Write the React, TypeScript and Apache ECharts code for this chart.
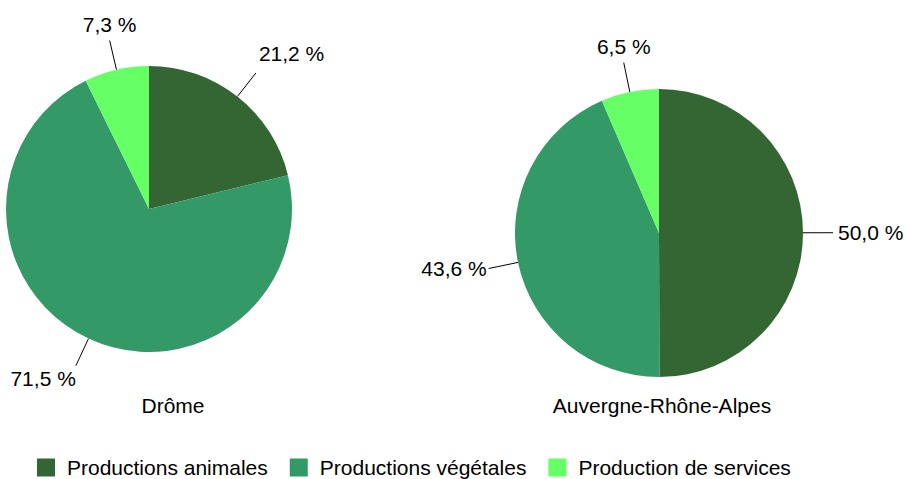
import React, { useEffect, useRef } from "react";
import * as echarts from "echarts";

const categories = ["Productions animales", "Productions végétales", "Production de services"];
const dromeValues = [21.2, 71.5, 7.3];
const auraValues = [50.0, 43.6, 6.5];
const regionNames = ["Drôme", "Auvergne-Rhône-Alpes"];
const colors = ["#336633", "#339966", "#66FF66"];

const FONT = "'Liberation Sans', Arial, sans-serif";

const fmt = (v: number) => v.toFixed(1).replace(".", ",") + " %";

const labelLayout = (p: any) => {
  const pts = p.labelLinePoints;
  if (!pts || pts.length < 2) return {};
  const s = pts[0];
  const m = pts[1];
  const e = pts[pts.length - 1];
  const dx = m[0] - s[0];
  const dy = m[1] - s[1];
  const len = Math.hypot(dx, dy) || 1;
  const ux = dx / len;
  const uy = dy / len;
  let x = e[0];
  let y = e[1];
  let align = "center";
  let verticalAlign = "middle";
  if (Math.abs(ux) < 0.35) {
    align = "center";
    verticalAlign = uy < 0 ? "bottom" : "top";
    y += uy < 0 ? -6 : 6;
  } else if (Math.abs(uy) < 0.35) {
    align = ux > 0 ? "left" : "right";
    x += ux > 0 ? 5 : -2;
  } else {
    align = ux > 0 ? "left" : "right";
    verticalAlign = uy < 0 ? "bottom" : "top";
    x += ux > 0 ? 3 : 0;
    y += uy < 0 ? -9 : 2;
  }
  return { x, y, align, verticalAlign, labelLinePoints: pts };
};

const makeSeries = (name: string, values: number[], center: number[], radius: number) => ({
  type: "pie",
  name,
  center,
  radius,
  startAngle: 90,
  clockwise: true,
  avoidLabelOverlap: false,
  silent: true,
  data: values.map((v, i) => ({ name: categories[i], value: v, itemStyle: { color: colors[i] } })),
  label: {
    show: true,
    position: "outside",
    formatter: (p: any) => fmt(p.value),
    fontSize: 21,
    fontFamily: FONT,
    color: "#000",
  },
  labelLine: {
    show: true,
    length: 30,
    length2: 0,
    smooth: false,
    lineStyle: { color: "#000", width: 1 },
  },
  labelLayout,
  itemStyle: { borderWidth: 0 },
  emphasis: { disabled: true },
});

export default function App() {
  const ref = useRef<HTMLDivElement>(null);
  useEffect(() => {
    if (!ref.current) return;
    const chart = echarts.init(ref.current, null, { renderer: "svg" });
    chart.setOption({
      animation: false,
      backgroundColor: "#fff",
      legend: {
        data: categories,
        left: 32,
        top: 452,
        itemWidth: 18,
        itemHeight: 18,
        itemGap: 22,
        icon: "rect",
        textStyle: { fontSize: 21, fontFamily: FONT, color: "#000", padding: [0, 0, 0, 7] },
      },
      graphic: [
        {
          type: "text",
          x: 173,
          y: 405,
          style: { text: regionNames[0], fontSize: 21, fontFamily: FONT, fill: "#000", align: "center", verticalAlign: "middle" },
        },
        {
          type: "text",
          x: 662,
          y: 405,
          style: { text: regionNames[1], fontSize: 21, fontFamily: FONT, fill: "#000", align: "center", verticalAlign: "middle" },
        },
      ],
      series: [
        makeSeries(regionNames[0], dromeValues, [149, 209], 143),
        makeSeries(regionNames[1], auraValues, [659, 233], 144),
      ],
    });
    return () => chart.dispose();
  }, []);
  return <div ref={ref} style={{ position: "fixed", left: 0, top: 0, width: 908, height: 479 }} />;
}
